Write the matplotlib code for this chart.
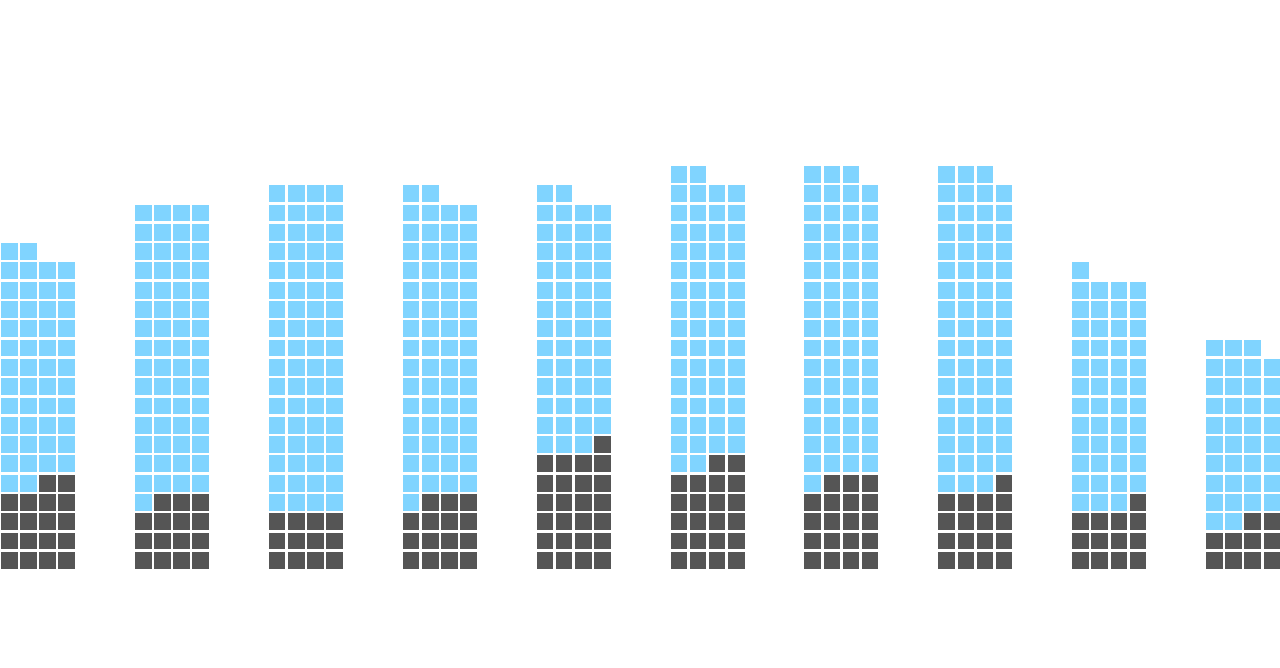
import matplotlib
matplotlib.use("Agg")
import matplotlib.pyplot as plt
from matplotlib.patches import Rectangle

# cells per bar (total) and how many of them are dark
totals = [66, 76, 80, 78, 78, 82, 83, 83, 61, 47]
dark = [18, 15, 12, 15, 25, 22, 19, 17, 13, 10]

ncols = 4
step = 7          # bar pitch in cell units
cell = 0.87       # cell size, rest is gap
light_col = "#80D4FF"
dark_col = "#555555"

fig = plt.figure(figsize=(12.8, 6.68), dpi=100)
ax = fig.add_axes([0, 0, 1, 1])

for g, (n, d) in enumerate(zip(totals, dark)):
    rows = -(-n // ncols)
    top = n - ncols * (rows - 1)
    # reading order from the top-left: partial top row first, then full rows down
    cells = [(rows - 1, c) for c in range(top)]
    for r in range(rows - 2, -1, -1):
        cells += [(r, c) for c in range(ncols)]
    for i, (r, c) in enumerate(cells):
        col = light_col if i < n - d else dark_col
        ax.add_patch(Rectangle((g * step + c, r), cell, cell, facecolor=col,
                               edgecolor="none"))

# pixel mapping: ~19.13 px per column, ~19.3 px per row
ax.set_xlim(-1 / 19.13, 1279 / 19.13)
ax.set_ylim((568.7 - 668) / 19.3, 568.7 / 19.3)
ax.axis("off")

fig.savefig("out.png", dpi=100, facecolor="white")
